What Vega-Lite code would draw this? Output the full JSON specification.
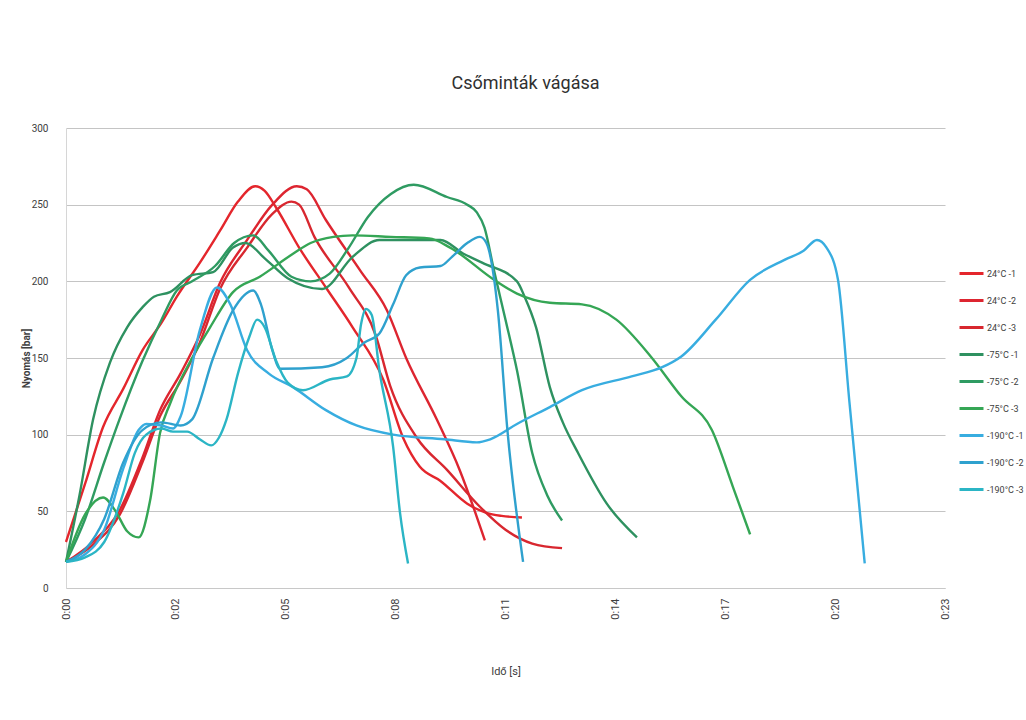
{
  "$schema": "https://vega.github.io/schema/vega-lite/v6.json",
  "autosize": {"type": "none"},
  "width": 879,
  "height": 460,
  "padding": {"left": 66, "top": 128, "right": 81, "bottom": 132},
  "background": "white",
  "title": {"text": "Csőminták vágása", "font": "Roboto", "fontSize": 18, "fontWeight": "normal", "color": "#303030", "offset": 30, "dx": 20},
  "config": {
    "view": {"stroke": null},
    "axis": {"labelFont": "Roboto", "titleFont": "Roboto", "labelColor": "#404040", "titleColor": "#404040"},
    "legend": {"labelFont": "Roboto"}
  },
  "data": {"values": [
    {"s":"24°C -1","t":0,"p":30},{"s":"24°C -1","t":0.5,"p":68},{"s":"24°C -1","t":0.97,"p":105},{"s":"24°C -1","t":1.5,"p":130},{"s":"24°C -1","t":2.0,"p":155},{"s":"24°C -1","t":2.5,"p":173},{"s":"24°C -1","t":2.9,"p":190},{"s":"24°C -1","t":3.5,"p":212},{"s":"24°C -1","t":4.03,"p":233},{"s":"24°C -1","t":4.5,"p":252},{"s":"24°C -1","t":4.95,"p":262},{"s":"24°C -1","t":5.2,"p":259},{"s":"24°C -1","t":5.5,"p":248},{"s":"24°C -1","t":6.1,"p":222},{"s":"24°C -1","t":6.8,"p":196},{"s":"24°C -1","t":7.5,"p":170},{"s":"24°C -1","t":8.3,"p":136},{"s":"24°C -1","t":8.82,"p":98},{"s":"24°C -1","t":9.26,"p":79},{"s":"24°C -1","t":9.79,"p":70},{"s":"24°C -1","t":10.5,"p":55},{"s":"24°C -1","t":11.0,"p":49},{"s":"24°C -1","t":11.4,"p":47},{"s":"24°C -1","t":11.93,"p":46},
    {"s":"24°C -2","t":0,"p":17},{"s":"24°C -2","t":0.7,"p":30},{"s":"24°C -2","t":1.41,"p":51},{"s":"24°C -2","t":2.0,"p":85},{"s":"24°C -2","t":2.46,"p":116},{"s":"24°C -2","t":3.0,"p":140},{"s":"24°C -2","t":3.5,"p":165},{"s":"24°C -2","t":4.03,"p":199},{"s":"24°C -2","t":4.74,"p":227},{"s":"24°C -2","t":5.4,"p":250},{"s":"24°C -2","t":6.04,"p":262},{"s":"24°C -2","t":6.3,"p":260},{"s":"24°C -2","t":6.8,"p":240},{"s":"24°C -2","t":7.7,"p":207},{"s":"24°C -2","t":8.4,"p":181},{"s":"24°C -2","t":8.9,"p":150},{"s":"24°C -2","t":9.7,"p":110},{"s":"24°C -2","t":10.3,"p":77},{"s":"24°C -2","t":10.96,"p":31},
    {"s":"24°C -3","t":0,"p":17},{"s":"24°C -3","t":0.7,"p":28},{"s":"24°C -3","t":1.41,"p":48},{"s":"24°C -3","t":2.0,"p":82},{"s":"24°C -3","t":2.46,"p":112},{"s":"24°C -3","t":3.0,"p":135},{"s":"24°C -3","t":3.5,"p":160},{"s":"24°C -3","t":4.03,"p":195},{"s":"24°C -3","t":4.74,"p":222},{"s":"24°C -3","t":5.4,"p":244},{"s":"24°C -3","t":5.9,"p":252},{"s":"24°C -3","t":6.1,"p":250},{"s":"24°C -3","t":6.5,"p":229},{"s":"24°C -3","t":7.4,"p":196},{"s":"24°C -3","t":8.1,"p":165},{"s":"24°C -3","t":8.48,"p":132},{"s":"24°C -3","t":9.18,"p":98},{"s":"24°C -3","t":9.97,"p":77},{"s":"24°C -3","t":10.83,"p":53},{"s":"24°C -3","t":11.5,"p":38},{"s":"24°C -3","t":12.2,"p":29},{"s":"24°C -3","t":12.98,"p":26},
    {"s":"-75°C -1","t":0,"p":17},{"s":"-75°C -1","t":0.35,"p":60},{"s":"-75°C -1","t":0.71,"p":110},{"s":"-75°C -1","t":1.15,"p":147},{"s":"-75°C -1","t":1.6,"p":170},{"s":"-75°C -1","t":2.0,"p":183},{"s":"-75°C -1","t":2.3,"p":190},{"s":"-75°C -1","t":2.72,"p":193},{"s":"-75°C -1","t":3.3,"p":204},{"s":"-75°C -1","t":3.85,"p":206},{"s":"-75°C -1","t":4.37,"p":222},{"s":"-75°C -1","t":4.7,"p":225},{"s":"-75°C -1","t":5.2,"p":215},{"s":"-75°C -1","t":5.8,"p":202},{"s":"-75°C -1","t":6.7,"p":195},{"s":"-75°C -1","t":7.5,"p":216},{"s":"-75°C -1","t":8.2,"p":227},{"s":"-75°C -1","t":9.1,"p":227},{"s":"-75°C -1","t":9.8,"p":227},{"s":"-75°C -1","t":10.4,"p":218},{"s":"-75°C -1","t":10.9,"p":212},{"s":"-75°C -1","t":11.8,"p":200},{"s":"-75°C -1","t":12.0,"p":190},{"s":"-75°C -1","t":12.3,"p":170},{"s":"-75°C -1","t":12.66,"p":131},{"s":"-75°C -1","t":13.0,"p":108},{"s":"-75°C -1","t":13.4,"p":88},{"s":"-75°C -1","t":14.15,"p":55},{"s":"-75°C -1","t":14.94,"p":33},
    {"s":"-75°C -2","t":0,"p":17},{"s":"-75°C -2","t":0.5,"p":45},{"s":"-75°C -2","t":1.0,"p":82},{"s":"-75°C -2","t":1.4,"p":110},{"s":"-75°C -2","t":2.0,"p":148},{"s":"-75°C -2","t":2.5,"p":175},{"s":"-75°C -2","t":2.9,"p":194},{"s":"-75°C -2","t":3.3,"p":200},{"s":"-75°C -2","t":3.9,"p":210},{"s":"-75°C -2","t":4.4,"p":225},{"s":"-75°C -2","t":4.9,"p":230},{"s":"-75°C -2","t":5.3,"p":220},{"s":"-75°C -2","t":5.9,"p":203},{"s":"-75°C -2","t":6.4,"p":200},{"s":"-75°C -2","t":6.9,"p":205},{"s":"-75°C -2","t":7.4,"p":222},{"s":"-75°C -2","t":7.9,"p":242},{"s":"-75°C -2","t":8.5,"p":257},{"s":"-75°C -2","t":9.1,"p":263},{"s":"-75°C -2","t":9.97,"p":255},{"s":"-75°C -2","t":10.5,"p":250},{"s":"-75°C -2","t":10.75,"p":245},{"s":"-75°C -2","t":10.95,"p":235},{"s":"-75°C -2","t":11.2,"p":207},{"s":"-75°C -2","t":11.5,"p":175},{"s":"-75°C -2","t":11.8,"p":142},{"s":"-75°C -2","t":12.2,"p":88},{"s":"-75°C -2","t":12.6,"p":60},{"s":"-75°C -2","t":12.98,"p":44},
    {"s":"-75°C -3","t":0,"p":17},{"s":"-75°C -3","t":0.5,"p":48},{"s":"-75°C -3","t":0.97,"p":59},{"s":"-75°C -3","t":1.3,"p":50},{"s":"-75°C -3","t":1.6,"p":37},{"s":"-75°C -3","t":1.9,"p":33},{"s":"-75°C -3","t":2.2,"p":57},{"s":"-75°C -3","t":2.46,"p":101},{"s":"-75°C -3","t":2.72,"p":120},{"s":"-75°C -3","t":3.3,"p":150},{"s":"-75°C -3","t":3.77,"p":170},{"s":"-75°C -3","t":4.37,"p":193},{"s":"-75°C -3","t":5.07,"p":203},{"s":"-75°C -3","t":5.94,"p":218},{"s":"-75°C -3","t":6.4,"p":225},{"s":"-75°C -3","t":7.0,"p":229},{"s":"-75°C -3","t":7.5,"p":230},{"s":"-75°C -3","t":8.5,"p":229},{"s":"-75°C -3","t":9.5,"p":228},{"s":"-75°C -3","t":10.05,"p":222},{"s":"-75°C -3","t":11.2,"p":201},{"s":"-75°C -3","t":11.8,"p":192},{"s":"-75°C -3","t":12.66,"p":186},{"s":"-75°C -3","t":13.5,"p":185},{"s":"-75°C -3","t":14.4,"p":175},{"s":"-75°C -3","t":15.3,"p":151},{"s":"-75°C -3","t":16.1,"p":125},{"s":"-75°C -3","t":16.9,"p":103},{"s":"-75°C -3","t":17.45,"p":66},{"s":"-75°C -3","t":17.9,"p":35},
    {"s":"-190°C -1","t":0,"p":17},{"s":"-190°C -1","t":0.5,"p":22},{"s":"-190°C -1","t":1.0,"p":38},{"s":"-190°C -1","t":1.5,"p":78},{"s":"-190°C -1","t":1.9,"p":103},{"s":"-190°C -1","t":2.1,"p":107},{"s":"-190°C -1","t":2.5,"p":106},{"s":"-190°C -1","t":2.8,"p":104},{"s":"-190°C -1","t":3.0,"p":112},{"s":"-190°C -1","t":3.5,"p":168},{"s":"-190°C -1","t":3.95,"p":196},{"s":"-190°C -1","t":4.3,"p":185},{"s":"-190°C -1","t":4.74,"p":155},{"s":"-190°C -1","t":5.3,"p":140},{"s":"-190°C -1","t":5.94,"p":131},{"s":"-190°C -1","t":6.8,"p":116},{"s":"-190°C -1","t":7.6,"p":106},{"s":"-190°C -1","t":8.56,"p":100},{"s":"-190°C -1","t":9.9,"p":97},{"s":"-190°C -1","t":10.75,"p":95},{"s":"-190°C -1","t":11.1,"p":97},{"s":"-190°C -1","t":11.8,"p":107},{"s":"-190°C -1","t":12.66,"p":118},{"s":"-190°C -1","t":13.5,"p":129},{"s":"-190°C -1","t":14.8,"p":138},{"s":"-190°C -1","t":15.6,"p":144},{"s":"-190°C -1","t":16.1,"p":151},{"s":"-190°C -1","t":17.0,"p":175},{"s":"-190°C -1","t":17.9,"p":201},{"s":"-190°C -1","t":18.8,"p":214},{"s":"-190°C -1","t":19.3,"p":220},{"s":"-190°C -1","t":19.65,"p":227},{"s":"-190°C -1","t":19.9,"p":222},{"s":"-190°C -1","t":20.2,"p":201},{"s":"-190°C -1","t":20.5,"p":121},{"s":"-190°C -1","t":20.9,"p":16},
    {"s":"-190°C -2","t":0,"p":17},{"s":"-190°C -2","t":0.5,"p":25},{"s":"-190°C -2","t":1.0,"p":45},{"s":"-190°C -2","t":1.5,"p":82},{"s":"-190°C -2","t":2.0,"p":103},{"s":"-190°C -2","t":2.5,"p":108},{"s":"-190°C -2","t":3.0,"p":106},{"s":"-190°C -2","t":3.3,"p":110},{"s":"-190°C -2","t":3.85,"p":150},{"s":"-190°C -2","t":4.37,"p":181},{"s":"-190°C -2","t":4.9,"p":194},{"s":"-190°C -2","t":5.1,"p":185},{"s":"-190°C -2","t":5.4,"p":155},{"s":"-190°C -2","t":5.6,"p":143},{"s":"-190°C -2","t":6.7,"p":144},{"s":"-190°C -2","t":7.35,"p":150},{"s":"-190°C -2","t":7.8,"p":160},{"s":"-190°C -2","t":8.2,"p":166},{"s":"-190°C -2","t":8.56,"p":185},{"s":"-190°C -2","t":8.9,"p":204},{"s":"-190°C -2","t":9.26,"p":209},{"s":"-190°C -2","t":9.8,"p":210},{"s":"-190°C -2","t":10.1,"p":216},{"s":"-190°C -2","t":10.5,"p":225},{"s":"-190°C -2","t":10.83,"p":229},{"s":"-190°C -2","t":11.0,"p":225},{"s":"-190°C -2","t":11.3,"p":181},{"s":"-190°C -2","t":11.55,"p":103},{"s":"-190°C -2","t":11.96,"p":17},
    {"s":"-190°C -3","t":0,"p":17},{"s":"-190°C -3","t":0.5,"p":20},{"s":"-190°C -3","t":1.0,"p":30},{"s":"-190°C -3","t":1.5,"p":62},{"s":"-190°C -3","t":1.8,"p":88},{"s":"-190°C -3","t":2.1,"p":100},{"s":"-190°C -3","t":2.5,"p":104},{"s":"-190°C -3","t":2.8,"p":102},{"s":"-190°C -3","t":3.17,"p":102},{"s":"-190°C -3","t":3.5,"p":97},{"s":"-190°C -3","t":3.8,"p":93},{"s":"-190°C -3","t":4.0,"p":98},{"s":"-190°C -3","t":4.2,"p":110},{"s":"-190°C -3","t":4.5,"p":140},{"s":"-190°C -3","t":4.8,"p":164},{"s":"-190°C -3","t":5.0,"p":175},{"s":"-190°C -3","t":5.2,"p":170},{"s":"-190°C -3","t":5.5,"p":148},{"s":"-190°C -3","t":5.8,"p":134},{"s":"-190°C -3","t":6.2,"p":129},{"s":"-190°C -3","t":6.9,"p":136},{"s":"-190°C -3","t":7.35,"p":138},{"s":"-190°C -3","t":7.6,"p":150},{"s":"-190°C -3","t":7.72,"p":172},{"s":"-190°C -3","t":7.85,"p":182},{"s":"-190°C -3","t":8.0,"p":178},{"s":"-190°C -3","t":8.2,"p":142},{"s":"-190°C -3","t":8.56,"p":92},{"s":"-190°C -3","t":8.74,"p":49},{"s":"-190°C -3","t":8.95,"p":16}
  ]},
  "mark": {"type": "line", "interpolate": "monotone", "strokeWidth": 2.4},
  "encoding": {
    "x": {"field": "t", "type": "quantitative", "scale": {"domain": [0, 23], "nice": false, "zero": false},
      "axis": {"title": "Idő [s]", "titleFontSize": 11, "titleFontWeight": "normal", "titlePadding": 46,
        "values": [0, 2.875, 5.75, 8.625, 11.5, 14.375, 17.25, 20.125, 23],
        "labelExpr": "'0:' + (floor(datum.value) < 10 ? '0' : '') + floor(datum.value)",
        "labelAngle": -90, "labelFontSize": 11, "labelPadding": 10, "ticks": false, "grid": false,
        "domainColor": "#c8c8c8", "labelOverlap": false}},
    "y": {"field": "p", "type": "quantitative", "scale": {"domain": [0, 300], "nice": false},
      "axis": {"title": "Nyomás [bar]", "titleFontSize": 10, "titleFontWeight": "bold", "titlePadding": 0,
        "values": [0, 50, 100, 150, 200, 250, 300], "labelFontSize": 10, "labelPadding": 18,
        "ticks": false, "grid": true, "gridColor": "#c4c4c4", "gridWidth": 1.2, "domainColor": "#d6d6d6"}},
    "color": {"field": "s", "type": "nominal",
      "scale": {"domain": ["24°C -1", "24°C -2", "24°C -3", "-75°C -1", "-75°C -2", "-75°C -3", "-190°C -1", "-190°C -2", "-190°C -3"],
        "range": ["#E4262C", "#DD2530", "#D8272F", "#2E9160", "#2F9B62", "#35A655", "#38ADE0", "#2FA1CE", "#2BB5C5"]},
      "legend": {"title": null, "orient": "none", "legendX": 892, "legendY": 132, "symbolType": "stroke", "symbolSize": 576,
        "symbolStrokeWidth": 3, "labelFontSize": 9, "labelColor": "#404040", "rowPadding": 7, "labelOffset": 2}}
  }
}
